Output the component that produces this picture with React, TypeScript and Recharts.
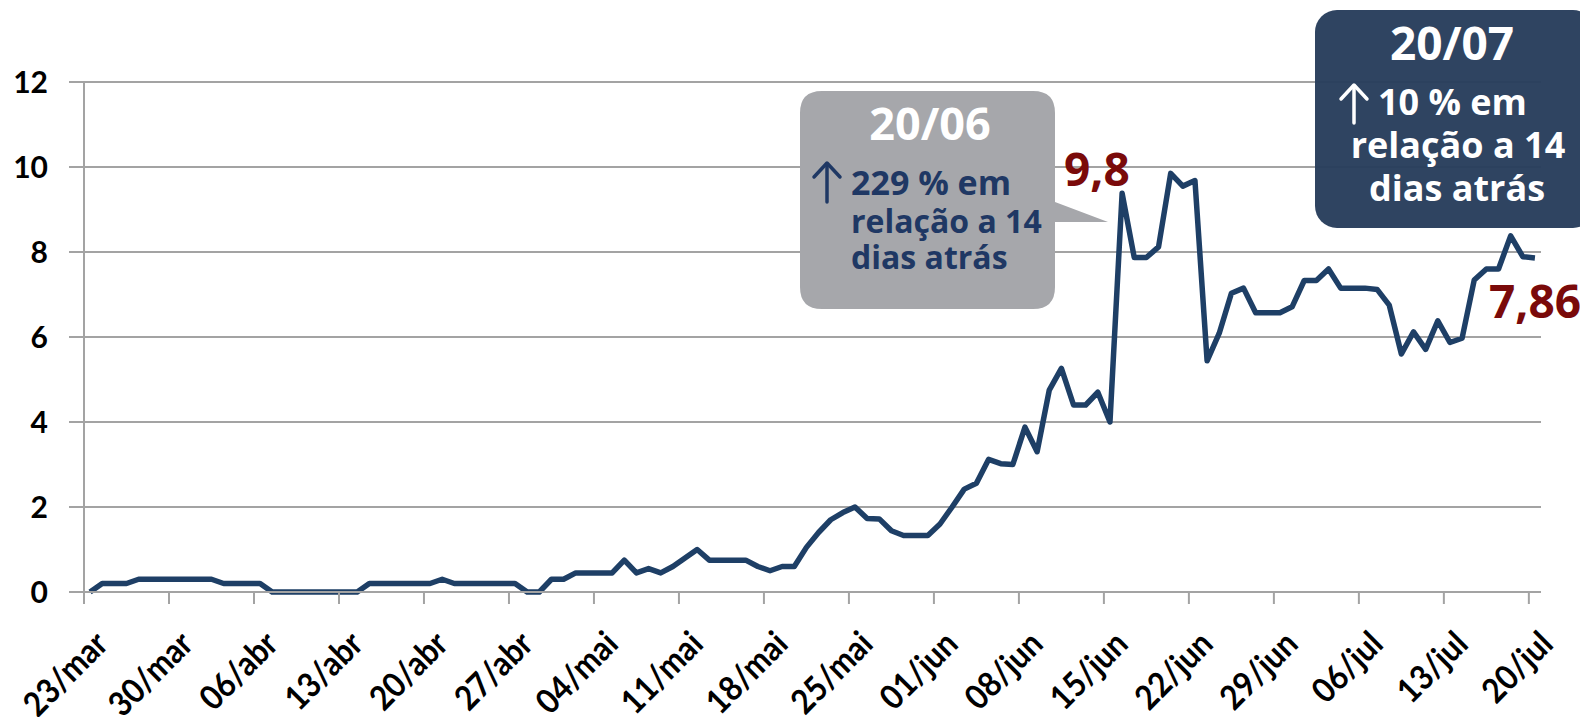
import React from "react";
import { LineChart, Line, XAxis, YAxis, CartesianGrid } from "recharts";

// one value per day, 23/mar .. 20/jul
const values = [
  0, 0.2, 0.2, 0.2, 0.3, 0.3, 0.3, 0.3, 0.3, 0.3,
  0.3, 0.2, 0.2, 0.2, 0.2, 0, 0, 0, 0, 0,
  0, 0, 0, 0.2, 0.2, 0.2, 0.2, 0.2, 0.2, 0.3,
  0.2, 0.2, 0.2, 0.2, 0.2, 0.2, 0, 0, 0.3, 0.3,
  0.45, 0.45, 0.45, 0.45, 0.75, 0.45, 0.55, 0.45, 0.6, 0.8,
  1.0, 0.75, 0.75, 0.75, 0.75, 0.6, 0.5, 0.6, 0.6, 1.05,
  1.4, 1.7, 1.87, 2.0, 1.73, 1.72, 1.44, 1.33, 1.33, 1.33,
  1.6, 2.0, 2.42, 2.56, 3.12, 3.02, 3.0, 3.88, 3.3, 4.75,
  5.26, 4.4, 4.4, 4.7, 4.0, 9.38, 7.87, 7.87, 8.12, 9.85,
  9.55, 9.68, 5.44, 6.09, 7.03, 7.15, 6.57, 6.57, 6.57, 6.71,
  7.33, 7.33, 7.6, 7.15, 7.15, 7.15, 7.12, 6.75, 5.6, 6.12,
  5.71, 6.38, 5.87, 5.97, 7.34, 7.6, 7.6, 8.38, 7.89, 7.86,
];

const tickDays = [0, 7, 14, 21, 28, 35, 42, 49, 56, 63, 70, 77, 84, 91, 98, 105, 112, 119];
const tickLabels = [
  "23/mar", "30/mar", "06/abr", "13/abr", "20/abr", "27/abr", "04/mai", "11/mai", "18/mai",
  "25/mai", "01/jun", "08/jun", "15/jun", "22/jun", "29/jun", "06/jul", "13/jul", "20/jul",
];
const yTicks = [0, 2, 4, 6, 8, 10, 12];

// points sit in the middle of their day
const data = values.map((v, i) => ({ x: i + 0.5, v }));

const GRID = "#A3A3A3";
const NAVY = "#1F3864";
const LINE = "#1E3F66";
const DARK_RED = "#7A0A0A";

function DateTick(props: any) {
  const { x, y, payload } = props;
  const label = tickLabels[tickDays.indexOf(payload.value)];
  const ax = x + 26;
  const ay = y + 42;
  // condensed look, like the Calibri labels of the original
  return (
    <text
      x={0}
      y={0}
      transform={`translate(${ax}, ${ay}) rotate(-45) scale(0.91, 1)`}
      textAnchor="end"
      fontFamily="Lato"
      fontWeight={700}
      fontSize={34}
      fill="#000"
    >
      {label}
    </text>
  );
}

export default function App() {
  const font = "'Open Sans'";
  return (
    <div style={{ position: "relative", width: 1588, height: 725, margin: -8 }}>
      <LineChart
        width={1588}
        height={725}
        data={data}
        margin={{ top: 82, right: 47, bottom: 0, left: 0 }}
      >
        <CartesianGrid horizontal vertical={false} stroke={GRID} strokeWidth={2} />
        <XAxis
          dataKey="x"
          type="number"
          domain={[0, 120]}
          ticks={tickDays}
          interval={0}
          height={133}
          tickSize={12}
          tickMargin={0}
          stroke={GRID}
          strokeWidth={2}
          tick={<DateTick />}
        />
        <YAxis
          type="number"
          domain={[0, 12]}
          ticks={yTicks}
          interval={0}
          width={84}
          tickSize={15}
          tickMargin={21}
          stroke={GRID}
          strokeWidth={2}
          tick={{ fontFamily: "Lato", fontWeight: 700, fontSize: 30, fill: "#000" }}
        />
        <Line
          dataKey="v"
          type="linear"
          stroke={LINE}
          strokeWidth={5.5}
          strokeLinejoin="round"
          dot={false}
          isAnimationActive={false}
        />
      </LineChart>

      <svg
        width={1588}
        height={725}
        style={{ position: "absolute", left: 0, top: 0, pointerEvents: "none" }}
      >
        {/* grey callout 20/06 */}
        <path
          d="M822,91 H1033 Q1055,91 1055,113 V202 L1108,222 L1055,222 V287 Q1055,309 1033,309 H822 Q800,309 800,287 V113 Q800,91 822,91 Z"
          fill="#A6A7AB"
        />
        <text x={930} y={140} textAnchor="middle" fill="#fff" fontFamily={font} fontWeight={700} fontSize={45}>
          20/06
        </text>
        <g stroke={NAVY} strokeWidth={3.5} strokeLinecap="round" strokeLinejoin="round" fill="none">
          <path d="M827,202 V164" />
          <path d="M814,177 L827,163 L840,177" />
        </g>
        <g fill={NAVY} fontFamily={font} fontWeight={700} fontSize={32}>
          <text x={851} y={195} fontSize={34}>229 % em</text>
          <text x={851} y={233}>relação a 14</text>
          <text x={851} y={269}>dias atrás</text>
        </g>

        {/* dark callout 20/07 */}
        <rect x={1315} y={10} width={280} height={218} rx={22} fill="#283E5C" fillOpacity={0.97} />
        <text x={1452} y={60} textAnchor="middle" fill="#fff" fontFamily={font} fontWeight={700} fontSize={46}>
          20/07
        </text>
        <g stroke="#fff" strokeWidth={3.5} strokeLinecap="round" strokeLinejoin="round" fill="none">
          <path d="M1354,123 V86" />
          <path d="M1341,99 L1354,85 L1367,99" />
        </g>
        <g fill="#fff" fontFamily={font} fontWeight={700} fontSize={36}>
          <text x={1378} y={115}>10 % em</text>
          <text x={1458} y={158} textAnchor="middle">relação a 14</text>
          <text x={1457} y={201} textAnchor="middle">dias atrás</text>
        </g>

        {/* value labels */}
        <g fill={DARK_RED} fontFamily={font} fontWeight={700} fontSize={46}>
          <text x={1064} y={186}>9,8</text>
          <text x={1489} y={318}>7,86</text>
        </g>
      </svg>
    </div>
  );
}
